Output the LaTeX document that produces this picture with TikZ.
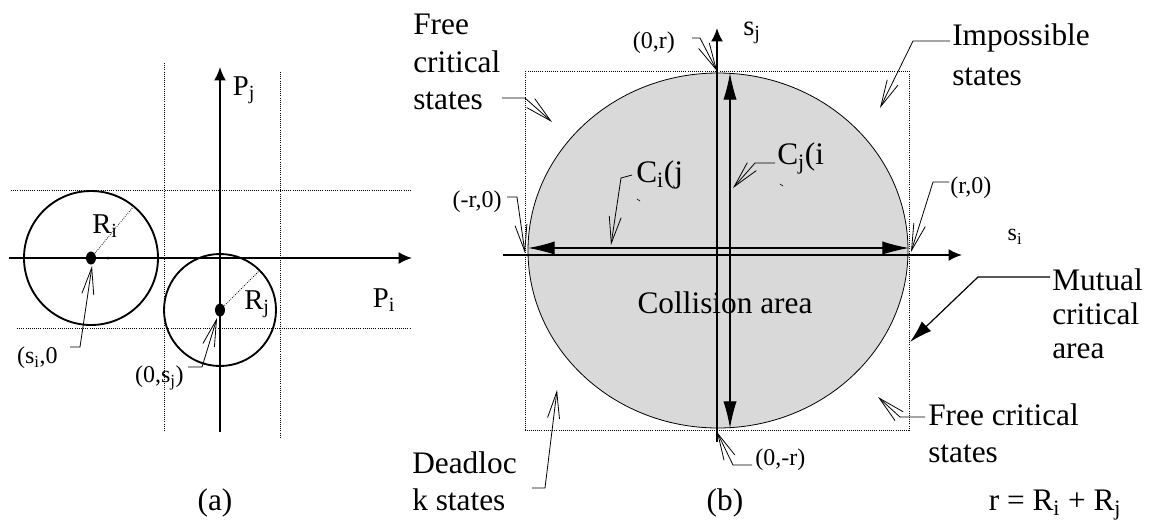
\documentclass[tikz,border=0pt]{standalone}
\usepackage{fontspec}
\setmainfont{Liberation Serif}
\usetikzlibrary{positioning,arrows.meta}

\begin{document}
\begin{tikzpicture}[
  x=0.75pt, y=-0.75pt,
  big/.style={font=\fontsize{23.5}{28}\selectfont, inner sep=0pt, align=left},
  mid/.style={font=\fontsize{21.5}{24}\selectfont, inner sep=0pt},
  small/.style={font=\fontsize{18}{20}\selectfont, inner sep=0pt},
  axis/.style={line width=1.6pt, -{Latex[length=10pt, width=9pt]}},
  guide/.style={densely dotted, line width=0.6pt},
  ring/.style={line width=1.4pt},
  call/.style={line width=0.6pt, -{Straight Barb[length=20pt, width=9pt]}},
  dim/.style={line width=0.9pt, {Latex[length=20pt, width=10pt]}-{Latex[length=20pt, width=10pt]}},
  bigcall/.style={line width=0.9pt, -{Latex[length=17pt, width=10pt]}},
]
\useasboundingbox (0,0) rectangle (1152,522);
% (a) the two robots
\draw[guide] (11,190) -- (410,190);
\draw[guide] (17,328) -- (410,328);
\draw[guide] (164,63) -- (164,430);
\draw[guide] (280,72) -- (280,437);
\draw[axis] (9,258) -- (412,258);
\draw[axis] (220,432) -- (220,67);
\node[mid] (Pi) at (384,300) {P\textsubscript{i}};
\node[mid] (Pj) at (244,90) {P\textsubscript{j}};
\coordinate (ci) at (91,258);
\coordinate (cj) at (220,310);
\draw[ring] (ci) circle [radius=67];
\draw[ring] (cj) circle [radius=56];
\draw[guide] (ci) -- (133,207);
\draw[guide] (cj) -- (260,270);
\fill (ci) ellipse [x radius=5, y radius=6.5];
\fill (cj) ellipse [x radius=5, y radius=6.5];
\fill (108,258) circle [radius=1.5];
\node[mid] (Ri) at (105,226) {R\textsubscript{i}};
\node[mid] (Rj) at (257,304) {R\textsubscript{j}};
\coordinate (tipSi) at (92,266);
\coordinate (tipSj) at (217,318);
\node[small, anchor=east] (si0) at (58,358) {(s\textsubscript{i},0};
\node[small, anchor=east] (s0j) at (184,378) {(0,s\textsubscript{j})};
\draw[call] ([shift={(12,-11)}]si0.east) -- ++(10,0) -- (tipSi);
\draw[call] ([shift={(4,-11)}]s0j.east) -- ++(14,0) -- (tipSj);
\node[big] (capA) at (215,503) {(a)};
% (b) the state space
\draw[guide] (525,71) rectangle (909,430);
\draw[fill=black!15, line width=0.6pt] (718,250.5) ellipse [x radius=190, y radius=177.5];
\draw[axis] (503,255) -- (962,255);
\draw[axis] (717,442) -- (717,28);
\draw[dim] (528,248) -- (909,248);
\draw[dim] (730,73) -- (730,428);
\node[small] (si) at (1015,237) {s\textsubscript{i}};
\node[mid] (sj) at (752,33) {s\textsubscript{j}};
\node[big] (coll) at (725,303) {Collision area};
% labels on the two dimensions
\node[big, anchor=west] (Cij) at (636,175) {C\textsubscript{i}(j};
\node[big, anchor=west] (Cji) at (777,158) {C\textsubscript{j}(i};
\coordinate (tipCij) at (611,245);
\coordinate (tipCji) at (733,188);
\draw[call] ([xshift=-3]Cij.west) -- ++(-11,3) -- (tipCij);
\draw[call] ([shift={(-2,5)}]Cji.west) -- ++(-20,0) -- (tipCji);
\draw[line width=0.5pt] (637,199) -- (640,201);
\draw[line width=0.5pt] (780,184) -- (783,186);
% the four corners of the area
\coordinate (top) at (717,71);
\coordinate (left) at (525,253);
\coordinate (right) at (911,252);
\coordinate (bottom) at (717,432);
\node[small, anchor=east] (p0r) at (675,43) {(0,r)};
\node[small, anchor=east] (pmr0) at (502,202) {(-r,0)};
\node[small, anchor=west] (pr0) at (950,188) {(r,0)};
\node[small, anchor=west] (p0mr) at (755,460) {(0,-r)};
\draw[call] ([shift={(17,-5)}]p0r.east) -- ++(8,0) -- (top);
\draw[call] ([shift={(5,-5)}]pmr0.east) -- ++(10,0) -- (left);
\draw[call] ([shift={(-1,-6)}]pr0.west) -- ++(-16,0) -- (right);
\draw[call] ([shift={(-3,5)}]p0mr.west) -- ++(-19,0) -- (bottom);
% the regions
\coordinate (tipImp) at (880,108);
\coordinate (tipFcTop) at (552,122);
\coordinate (tipMut) at (910,342);
\coordinate (tipFcBot) at (878,397);
\coordinate (tipDead) at (557,390);
\node[big, anchor=west, font=\fontsize{23.5}{30}\selectfont] (imp) at (952,55) {Impossible\\states};
\node[big, anchor=west] (fcTop) at (413,62) {Free\\critical\\states};
\node[big, anchor=west, font=\fontsize{23.5}{25.5}\selectfont] (mut) at (1052,314) {Mutual\\critical\\area};
\node[big, anchor=west] (fcBot) at (928,433) {Free critical\\states};
\node[big, anchor=west] (dead) at (412,481) {Deadloc\\k states};
\draw[call] ([shift={(-2,-14)}]imp.west) -- ++(-37,0) -- (tipImp);
\draw[call] ([shift={(89,36)}]fcTop.west) -- ++(23,0) -- (tipFcTop);
\draw[bigcall] ([shift={(-2,-37)}]mut.west) -- ++(-72,0) -- (tipMut);
\draw[call] ([shift={(-3,-16)}]fcBot.west) -- ++(-25,0) -- (tipFcBot);
\draw[call] ([shift={(120,7)}]dead.west) -- ++(13,0) -- (tipDead);
\node[big] (capB) at (725,503) {(b)};
\node[big] (req) at (1055,505) {r = R\textsubscript{i} + R\textsubscript{j}};
\end{tikzpicture}
\end{document}
